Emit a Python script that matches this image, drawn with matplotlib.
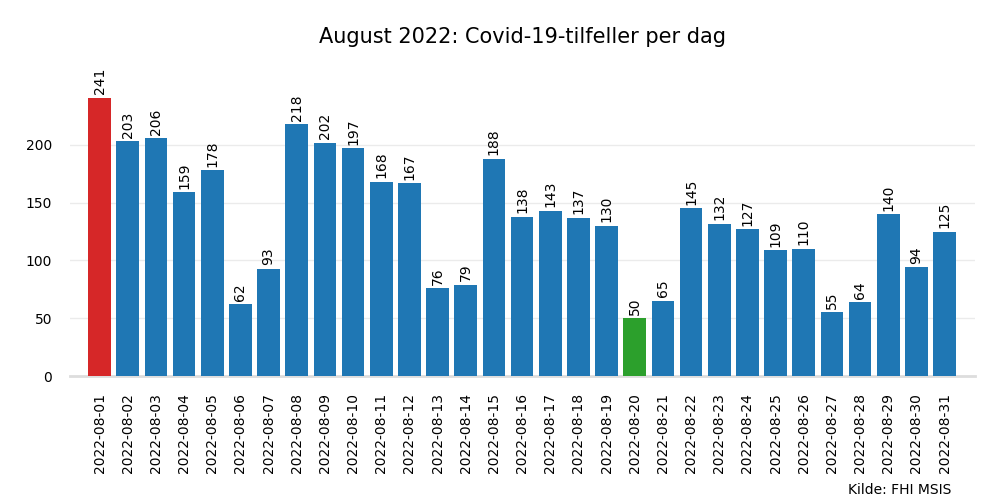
import matplotlib.pyplot as plt

datoer = [f"2022-08-{d:02d}" for d in range(1, 32)]
tilfeller = [241, 203, 206, 159, 178, 62, 93, 218, 202, 197, 168, 167, 76, 79, 188,
             138, 143, 137, 130, 50, 65, 145, 132, 127, 109, 110, 55, 64, 140, 94, 125]

maks = max(tilfeller)
mini = min(tilfeller)
farger = []
for v in tilfeller:
    if v == maks:
        farger.append('#d62728')
    elif v == mini:
        farger.append('#2ca02c')
    else:
        farger.append('#1f77b4')

fig = plt.figure(figsize=(10, 5), dpi=100)
ax = fig.add_axes([0.07, 0.248, 0.905, 0.64])

x = list(range(len(datoer)))
bars = ax.bar(x, tilfeller, width=0.8, color=farger, zorder=3)

for xi, v in zip(x, tilfeller):
    ax.text(xi, v + 3, str(v), rotation=90, ha='center', va='bottom', fontsize=10)

ax.set_xticks(x)
ax.set_xticklabels(datoer, rotation=90, fontsize=10)
ax.set_yticks([0, 50, 100, 150, 200])
ax.tick_params(axis='x', length=0, pad=12)
ax.tick_params(axis='y', length=0, pad=13)
ax.set_xlim(-1.05, len(datoer) - 1 + 1.08)
ax.set_ylim(0, 277)

ax.grid(axis='y', color='#ebebeb', linewidth=1, zorder=0)
for s in ['top', 'right', 'left']:
    ax.spines[s].set_visible(False)
ax.spines['bottom'].set_color('#dddddd')
ax.spines['bottom'].set_linewidth(2)

fig.text(0.5225, 0.926, 'August 2022: Covid-19-tilfeller per dag', ha='center', va='center', fontsize=15)
fig.text(0.951, 0.006, 'Kilde: FHI MSIS', ha='right', va='bottom', fontsize=10)

fig.savefig('out.png', dpi=100)
